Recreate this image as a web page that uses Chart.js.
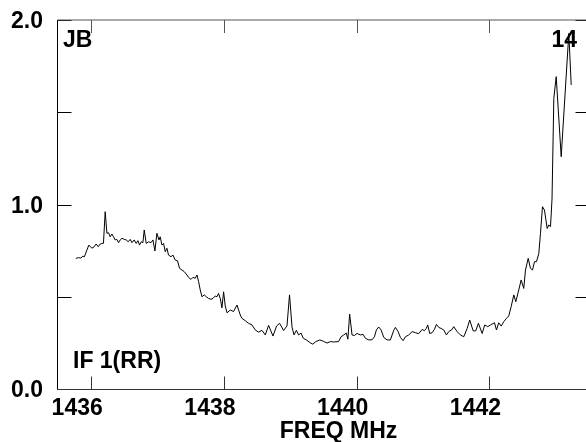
<!DOCTYPE html>
<html>
<head>
<meta charset="utf-8">
<script src="https://cdn.jsdelivr.net/npm/chart.js@4/dist/chart.umd.min.js"></script>
<style>
  html, body { margin: 0; padding: 0; background: #fff; overflow: hidden; }
  #wrap { width: 600px; height: 442px; }
</style>
</head>
<body>
<div id="wrap"><canvas id="chart" width="600" height="442"></canvas></div>
<script>
// spectrum
const freqMHz = [
  1435.769, 1435.809, 1435.845, 1435.875, 1435.899, 1435.935, 1435.965, 1436.011, 1436.045, 1436.075,
  1436.106, 1436.136, 1436.161, 1436.185, 1436.211, 1436.237, 1436.261, 1436.286, 1436.312, 1436.336,
  1436.362, 1436.387, 1436.412, 1436.437, 1436.463, 1436.498, 1436.528, 1436.558, 1436.588, 1436.614,
  1436.648, 1436.678, 1436.704, 1436.728, 1436.754, 1436.779, 1436.799, 1436.829, 1436.864, 1436.900,
  1436.930, 1436.960, 1436.990, 1437.021, 1437.040, 1437.066, 1437.090, 1437.116, 1437.141, 1437.165,
  1437.202, 1437.232, 1437.266, 1437.301, 1437.331, 1437.367, 1437.402, 1437.432, 1437.467, 1437.503,
  1437.533, 1437.568, 1437.594, 1437.618, 1437.643, 1437.669, 1437.704, 1437.734, 1437.768, 1437.805,
  1437.835, 1437.869, 1437.895, 1437.919, 1437.945, 1437.970, 1437.995, 1438.020, 1438.046, 1438.096,
  1438.145, 1438.197, 1438.246, 1438.272, 1438.322, 1438.371, 1438.423, 1438.472, 1438.522, 1438.573,
  1438.623, 1438.673, 1438.739, 1438.794, 1438.839, 1438.899, 1438.950, 1438.988, 1439.026, 1439.056,
  1439.091, 1439.125, 1439.161, 1439.196, 1439.249, 1439.302, 1439.339, 1439.385, 1439.445, 1439.502,
  1439.553, 1439.603, 1439.653, 1439.728, 1439.764, 1439.804, 1439.844, 1439.867, 1439.894, 1439.930,
  1439.965, 1440.006, 1440.055, 1440.096, 1440.131, 1440.181, 1440.232, 1440.267, 1440.297, 1440.331,
  1440.368, 1440.407, 1440.458, 1440.508, 1440.558, 1440.583, 1440.624, 1440.658, 1440.699, 1440.734,
  1440.784, 1440.835, 1440.885, 1440.934, 1440.986, 1441.020, 1441.050, 1441.070, 1441.100, 1441.136,
  1441.171, 1441.201, 1441.236, 1441.272, 1441.311, 1441.352, 1441.387, 1441.438, 1441.462, 1441.513,
  1441.563, 1441.613, 1441.664, 1441.703, 1441.755, 1441.794, 1441.834, 1441.890, 1441.929, 1441.975,
  1442.015, 1442.076, 1442.106, 1442.140, 1442.177, 1442.216, 1442.257, 1442.291, 1442.327, 1442.367,
  1442.397, 1442.442, 1442.478, 1442.517, 1442.543, 1442.584, 1442.618, 1442.649, 1442.679, 1442.709,
  1442.744, 1442.769, 1442.799, 1442.829, 1442.870, 1442.894, 1442.920, 1442.943, 1442.970, 1443.006,
  1443.081, 1443.196, 1443.232
];
const flux = [
  0.708, 0.712, 0.710, 0.720, 0.717, 0.753, 0.780, 0.763, 0.771, 0.786,
  0.771, 0.786, 0.789, 0.790, 0.961, 0.844, 0.847, 0.825, 0.840, 0.825,
  0.808, 0.811, 0.793, 0.808, 0.817, 0.811, 0.808, 0.798, 0.811, 0.793,
  0.808, 0.789, 0.804, 0.780, 0.798, 0.793, 0.862, 0.789, 0.798, 0.793,
  0.808, 0.748, 0.844, 0.808, 0.825, 0.780, 0.789, 0.744, 0.763, 0.726,
  0.717, 0.726, 0.699, 0.695, 0.654, 0.645, 0.636, 0.623, 0.605, 0.594,
  0.605, 0.600, 0.618, 0.582, 0.537, 0.500, 0.510, 0.500, 0.491, 0.486,
  0.491, 0.504, 0.500, 0.518, 0.490, 0.440, 0.527, 0.450, 0.413, 0.428,
  0.420, 0.455, 0.401, 0.383, 0.370, 0.356, 0.347, 0.320, 0.308, 0.318,
  0.293, 0.345, 0.287, 0.342, 0.356, 0.317, 0.342, 0.510, 0.335, 0.293,
  0.318, 0.293, 0.303, 0.275, 0.264, 0.250, 0.243, 0.257, 0.266, 0.258,
  0.249, 0.257, 0.255, 0.257, 0.283, 0.293, 0.303, 0.270, 0.406, 0.293,
  0.290, 0.301, 0.293, 0.296, 0.275, 0.266, 0.267, 0.283, 0.320, 0.336,
  0.320, 0.280, 0.266, 0.266, 0.318, 0.334, 0.311, 0.280, 0.262, 0.283,
  0.293, 0.311, 0.305, 0.300, 0.323, 0.316, 0.329, 0.347, 0.301, 0.305,
  0.323, 0.350, 0.334, 0.328, 0.320, 0.293, 0.311, 0.323, 0.338, 0.311,
  0.293, 0.283, 0.328, 0.374, 0.315, 0.315, 0.356, 0.301, 0.347, 0.338,
  0.347, 0.359, 0.320, 0.359, 0.341, 0.365, 0.383, 0.396, 0.446, 0.510,
  0.473, 0.537, 0.591, 0.545, 0.645, 0.708, 0.654, 0.645, 0.690, 0.690,
  0.735, 0.844, 0.988, 0.970, 0.870, 0.889, 0.880, 1.030, 1.575, 1.693,
  1.259, 1.927, 1.648
];

const xTicks = [1436, 1438, 1440, 1442];
const yTicks = [0, 0.5, 1.0, 1.5, 2.0];
const yTickLabels = ['0.0', '', '1.0', '', '2.0'];

const FONT = '"Liberation Sans", Arial, Helvetica, sans-serif';
const tickFont = { family: FONT, size: 23, weight: 'bold' };

// box with inward ticks + the corner texts
const framePlugin = {
  id: 'frame',
  afterDraw(chart) {
    const { ctx, chartArea: a, scales: { x, y } } = chart;
    const L = Math.round(a.left) - 0.5, R = Math.round(a.right) - 0.5;
    const T = Math.round(a.top), B = Math.round(a.bottom) + 0.5;
    const tl = 13;
    ctx.save();
    ctx.lineWidth = 1;

    ctx.strokeStyle = '#000';
    ctx.beginPath();
    ctx.moveTo(L, T); ctx.lineTo(L, B);
    ctx.moveTo(R, T); ctx.lineTo(R, B);
    yTicks.forEach(v => {
      const py = Math.round(y.getPixelForValue(v)) + 0.5;
      ctx.moveTo(L, py); ctx.lineTo(L + tl + 1, py);
      ctx.moveTo(R, py); ctx.lineTo(R - tl, py);
    });
    ctx.stroke();

    ctx.strokeStyle = '#333';
    ctx.beginPath();
    ctx.moveTo(L, B); ctx.lineTo(R, B);
    xTicks.forEach(v => {
      const px = Math.round(x.getPixelForValue(v)) + 0.5;
      ctx.moveTo(px, B); ctx.lineTo(px, B - tl);
    });
    ctx.stroke();

    ctx.strokeStyle = '#555';
    ctx.beginPath();
    ctx.moveTo(L, T); ctx.lineTo(R, T);
    xTicks.forEach(v => {
      const px = Math.round(x.getPixelForValue(v)) + 0.5;
      ctx.moveTo(px, T); ctx.lineTo(px, T + tl);
    });
    ctx.stroke();

    ctx.fillStyle = '#000';
    ctx.font = 'bold 23px ' + FONT;
    ctx.textBaseline = 'alphabetic';
    ctx.textAlign = 'left';
    ctx.fillText('JB', a.left + 5, a.top + 27);
    ctx.fillText('IF 1(RR)', a.left + 15, a.bottom - 21);
    ctx.textAlign = 'right';
    ctx.fillText('14', a.right - 12, a.top + 27);
    ctx.textAlign = 'center';
    ctx.fillText('FREQ MHz', (a.left + a.right) / 2 + 15, a.bottom + 49);
    ctx.restore();
  }
};

new Chart(document.getElementById('chart'), {
  type: 'line',
  data: {
    datasets: [{
      data: freqMHz.map((f, i) => ({ x: f, y: flux[i] })),
      borderColor: '#000',
      borderWidth: 1,
      pointRadius: 0,
      tension: 0,
      fill: false
    }]
  },
  options: {
    responsive: false,
    animation: false,
    layout: { padding: { top: 20, right: 11, left: 0, bottom: 0 } },
    plugins: { legend: { display: false }, tooltip: { enabled: false } },
    scales: {
      x: {
        type: 'linear',
        min: 1435.5,
        max: 1443.5,
        afterBuildTicks: s => { s.ticks = xTicks.map(v => ({ value: v })); },
        afterFit: s => { s.height = 53; s.paddingLeft = 0; s.paddingRight = 0; },
        grid: { display: false, drawTicks: false },
        border: { display: false },
        ticks: {
          color: '#000', font: tickFont, padding: 6, labelOffset: -14,
          maxRotation: 0, autoSkip: false,
          callback: v => String(v)
        }
      },
      y: {
        min: 0,
        max: 2,
        afterBuildTicks: s => { s.ticks = yTicks.map(v => ({ value: v })); },
        afterFit: s => { s.width = 58; s.paddingTop = 0; s.paddingBottom = 0; },
        grid: { display: false, drawTicks: false },
        border: { display: false },
        ticks: {
          color: '#000', font: tickFont, padding: 15, labelOffset: 2, autoSkip: false,
          callback: v => yTickLabels[yTicks.indexOf(v)]
        }
      }
    }
  },
  plugins: [framePlugin]
});
</script>
</body>
</html>
